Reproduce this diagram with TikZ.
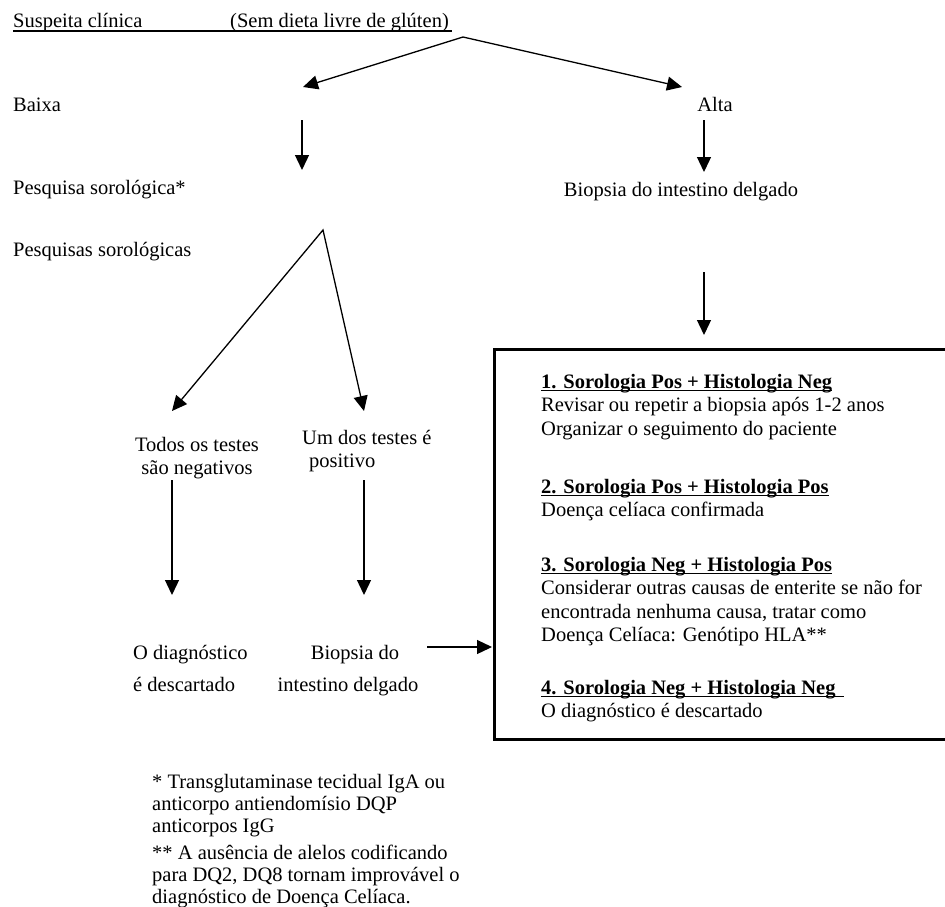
\documentclass[tikz,border=0pt]{standalone}
\usepackage{fontspec}
\setmainfont{Liberation Serif}
\usetikzlibrary{arrows.meta}
\newcommand\myul[2][0pt]{\setbox0\hbox{#2\hspace{#1}}\rlap{\rule[-3pt]{\wd0}{1.1pt}}\box0}
\newcommand\mylines[2]{\begin{tabular}[t]{@{}#1@{}}#2\end{tabular}}
\begin{document}
\begin{tikzpicture}[x=1pt,y=-1pt,
  font=\fontsize{20.5}{23.5}\selectfont,
  txt/.style={inner sep=0pt, anchor=base west},
  ctxt/.style={inner sep=0pt, anchor=base},
  tip/.style={-{Triangle[length=15pt,width=14pt]}},
  arr/.style={line width=1.3pt, tip},
  arrbi/.style={line width=1.3pt, line join=miter, {Triangle[length=15pt,width=14pt]}-{Triangle[length=15pt,width=14pt]}}]
\useasboundingbox (0,0) rectangle (945,906);
\fill[white] (0,0) rectangle (945,906);

% top
\node[txt] (sus) at (13,27) {Suspeita clínica};
\node[txt] (sem) at (230,27) {(Sem dieta livre de glúten)};
\draw[line width=1.1pt] (sus.base west) ++(0,4) coordinate (ul1) -- (ul1 -| 452,0);

\coordinate (ap1) at (463,37);
\coordinate (tl1) at (303,87);
\coordinate (tr1) at (682,87);
\draw[arrbi] (tl1) -- (ap1) -- (tr1);

\node[txt] (baixa) at (13,111) {Baixa};
\node[ctxt] (alta) at (715,111) {Alta};

\coordinate (d1s) at (302,120); \coordinate (d1e) at (302,170);
\draw[arr] (d1s) -- (d1e);
\coordinate (d2s) at (704,120); \coordinate (d2e) at (704,172);
\draw[arr] (d2s) -- (d2e);

\node[txt] (pesq1) at (13,194) {Pesquisa sorológica*};
\node[ctxt] (biop1) at (681,196) {Biopsia do intestino delgado};
\node[txt] (pesq2) at (13,256) {Pesquisas sorológicas};

\coordinate (d3s) at (704,272); \coordinate (d3e) at (704,335);
\draw[arr] (d3s) -- (d3e);

\coordinate (ap2) at (323,230);
\coordinate (tl2) at (172,411);
\coordinate (tr2) at (364,411);
\draw[arrbi] (tl2) -- (ap2) -- (tr2);

\node[ctxt] (todos) at (197,451) {\mylines{c}{Todos os testes\\são negativos}};
\node[txt] (um) at (302,444) {\mylines{l}{Um dos testes é\\\hspace{7pt}positivo}};

\coordinate (d4s) at (172,480); \coordinate (d4e) at (172,595);
\draw[arr] (d4s) -- (d4e);
\coordinate (d5s) at (364,480); \coordinate (d5e) at (364,595);
\draw[arr] (d5s) -- (d5e);

\node[txt] (odiag) at (133,659) {\mylines{l}{O diagnóstico\\[8.5pt]é descartado}};
\node[ctxt] (biop2) at (348,659) {\mylines{c}{\hspace{14pt}Biopsia do\\[8.5pt]intestino delgado}};

% box
\node[draw, line width=2.6pt, inner sep=0pt, anchor=north west,
      minimum width=480pt, minimum height=390pt] (box) at (493,348) {};
\coordinate (h1s) at (427,647); \coordinate (h1e) at (492,647);
\draw[arr] (h1s) -- (h1e);

\node[txt] (s1) at (541,388) {\mylines{l}{\myul{\textbf{1. Sorologia Pos + Histologia Neg}}\\
  Revisar ou repetir a biopsia após 1-2 anos\\
  Organizar o seguimento do paciente}};
\node[txt] (s2) at (541,493) {\mylines{l}{\myul{\textbf{2. Sorologia Pos + Histologia Pos}}\\
  Doença celíaca confirmada}};
\node[txt] (s3) at (541,571) {\mylines{l}{\myul{\textbf{3. Sorologia Neg + Histologia Pos}}\\
  Considerar outras causas de enterite se não for\\
  encontrada nenhuma causa, tratar como\\
  Doença Celíaca: Genótipo HLA**}};
\node[txt] (s4) at (541,694) {\mylines{l}{\myul[8pt]{\textbf{4. Sorologia Neg + Histologia Neg}}\\
  O diagnóstico é descartado}};

% footnotes
\node[txt, font=\fontsize{20.5}{22}\selectfont] (fn1) at (152,788) {\mylines{l}{* Transglutaminase tecidual IgA ou\\
  anticorpo antiendomísio DQP\\
  anticorpos IgG}};
\node[txt, font=\fontsize{20.5}{22}\selectfont] (fn2) at (152,859) {\mylines{l}{** A ausência de alelos codificando\\
  para DQ2, DQ8 tornam improvável o\\
  diagnóstico de Doença Celíaca.}};
\end{tikzpicture}
\end{document}
